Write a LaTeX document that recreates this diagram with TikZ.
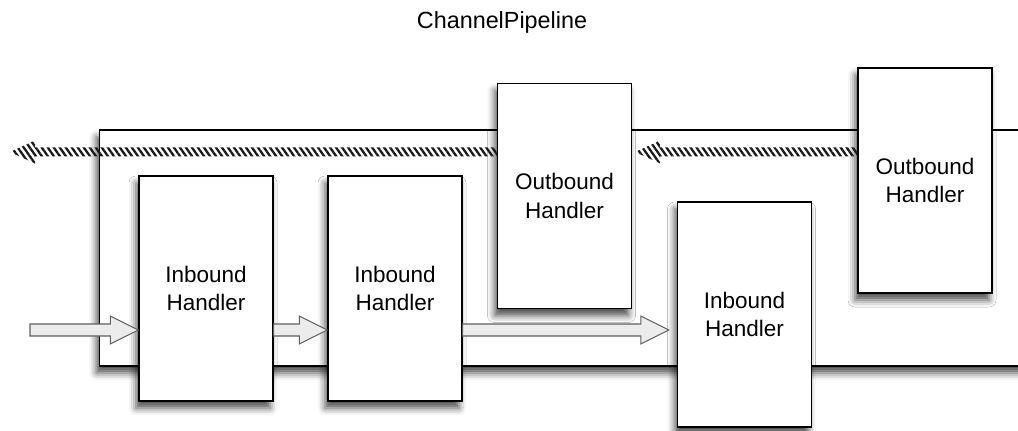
\documentclass[tikz,border=0pt]{standalone}
\usepackage{fontspec}
\setmainfont{Liberation Sans}
\usetikzlibrary{calc,shadows.blur,patterns.meta}
\tikzset{>=latex}
\tikzset{
  handler/.style={draw,line width=0.8pt,fill=white,align=center,
    minimum width=2.68cm,minimum height=4.5cm,
    font=\fontsize{12.8}{16}\selectfont,
    blur shadow={shadow xshift=-0.6mm,shadow yshift=-1.4mm,
      shadow blur radius=1.4mm,shadow opacity=70}},
  pipebox/.style={handler,minimum width=18.9cm,minimum height=4.72cm},
  fatarrow/.style={draw=gray!75!black,fill=gray!15,line width=0.6pt,
    to path={let \p1=(\tikztostart), \p2=(\tikztotarget) in
      (\x1,\y1+1.2mm) -- (\x2-5.6mm,\y1+1.2mm) -- (\x2-5.6mm,\y1+2.8mm)
      -- (\x2,\y1) -- (\x2-5.6mm,\y1-2.8mm) -- (\x2-5.6mm,\y1-1.2mm)
      -- (\x1,\y1-1.2mm) -- cycle}},
  hatcharrow/.style={draw=none,
    pattern={Lines[angle=-55,distance=2.8pt,line width=1.3pt]},pattern color=black!90,
    to path={let \p1=(\tikztostart), \p2=(\tikztotarget) in
      (\x1,\y1+0.9mm) -- (\x2+5mm,\y1+0.9mm) -- (\x2+5mm,\y1+2.3mm)
      -- (\x2,\y1) -- (\x2+5mm,\y1-2.3mm) -- (\x2+5mm,\y1-0.9mm)
      -- (\x1,\y1-0.9mm) -- cycle}}
}

\begin{document}
\begin{tikzpicture}[x=0.2mm,y=-0.2mm]
  \useasboundingbox (0,0) rectangle (1018,431);
  \node[font=\fontsize{13.3}{16}\selectfont] (title) at (502,22) {ChannelPipeline};
  \node[pipebox] (pipeline) at (572,248) {};
  % free ends of the event flow
  \coordinate (src) at (30,330);
  \coordinate (exit) at (10,152);
  \foreach \n/\x/\y in {in1/206/288.5,in2/395/288.5,in3/744.5/314.5}
    \node[handler] (\n) at (\x,\y) {Inbound\\Handler};
  \foreach \n/\x/\y in {out1/564.5/196,out2/925/180.5}
    \node[handler] (\n) at (\x,\y) {Outbound\\Handler};
  \draw[fatarrow] (src) to (in1.west |- src);
  \draw[fatarrow] (in1.east |- src) to (in2.west |- src);
  \draw[fatarrow] (in2.east |- src) to ([xshift=-1.6mm]in3.west |- src);
  \draw[hatcharrow] (out1.west |- exit) to (exit);
  \draw[hatcharrow] (out2.west |- exit) to ([xshift=0.6mm]out1.east |- exit);
\end{tikzpicture}
\end{document}
